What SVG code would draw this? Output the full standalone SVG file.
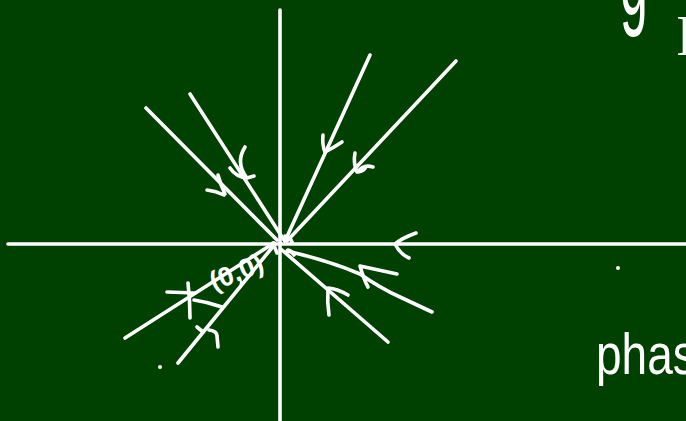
<svg xmlns="http://www.w3.org/2000/svg" width="686" height="421" viewBox="0 0 686 421">
<style>
.s{fill:none;stroke:#ffffff;stroke-width:3.6;stroke-linecap:round;stroke-linejoin:round}
.t{fill:#ffffff;font-family:"Liberation Sans",Arial,sans-serif}
</style>
<rect x="0" y="0" width="686" height="421" fill="#004000"/>
<g id="axes" class="s">
<path d="M280,10 L280,421"/>
<path d="M8,244 L686,244"/>
</g>
<g id="connectors" class="s">
<path d="M146,108 L277,240"/>
<path d="M190,94 L284,240"/>
<path d="M370,55 L285,241"/>
<path d="M456,61 L287,241"/>
<path d="M125,338 L274,243"/>
<path d="M178,363 L275,244"/>
<path d="M388,342 L282,250"/>
<path d="M287,251 Q330,261 360,274 Q380,288 400,297 L432,312"/>
</g>
<g id="arrowheads" class="s">
<path d="M218,175 Q221,186 225,194 M207,190 Q216,191 224,195"/>
<path d="M245,147 Q235,163 247,178 L254,176 M230,168 Q236,177 247,178"/>
<path d="M323,135 Q322,145 325,152 M342,142 Q333,148 325,152"/>
<path d="M355,153 Q353,163 357,172 M373,167 Q363,164 358,172 Q364,171 366,167"/>
<path d="M416,233 Q402,238 395,244 Q400,254 409,258"/>
<path d="M348,295 Q338,289 328,288 Q327,302 329,315"/>
<path d="M397,274 L360,266 Q364,280 368,287"/>
<path d="M167,292 L195,293 M188,283 Q190,300 190,318 M194,300 Q208,302 222,307"/>
<path d="M197,327 L203,332 M209,330 Q217,331 217,336 L218,347"/>
<path d="M285,236 Q290,237 292,242 M288,250 Q292,251 294,255 M273,243 L277,253"/>
</g>
<g id="labels">
<text class="t" x="214" y="291" font-size="27" font-weight="bold" transform="rotate(-22 214 291)">(0,0)</text>
<text class="t" font-size="50" transform="translate(620,14) scale(1,2.2)">g</text>
<text class="t" x="676" y="55" font-size="56" style="font-family:'Liberation Serif',serif">I</text>
<text class="t" font-size="46" transform="translate(596,374) scale(1,1.25)">phas</text>
<circle cx="160" cy="367" r="2" fill="#ffffff"/>
<circle cx="618" cy="268" r="2" fill="#ffffff"/>
</g>
</svg>
